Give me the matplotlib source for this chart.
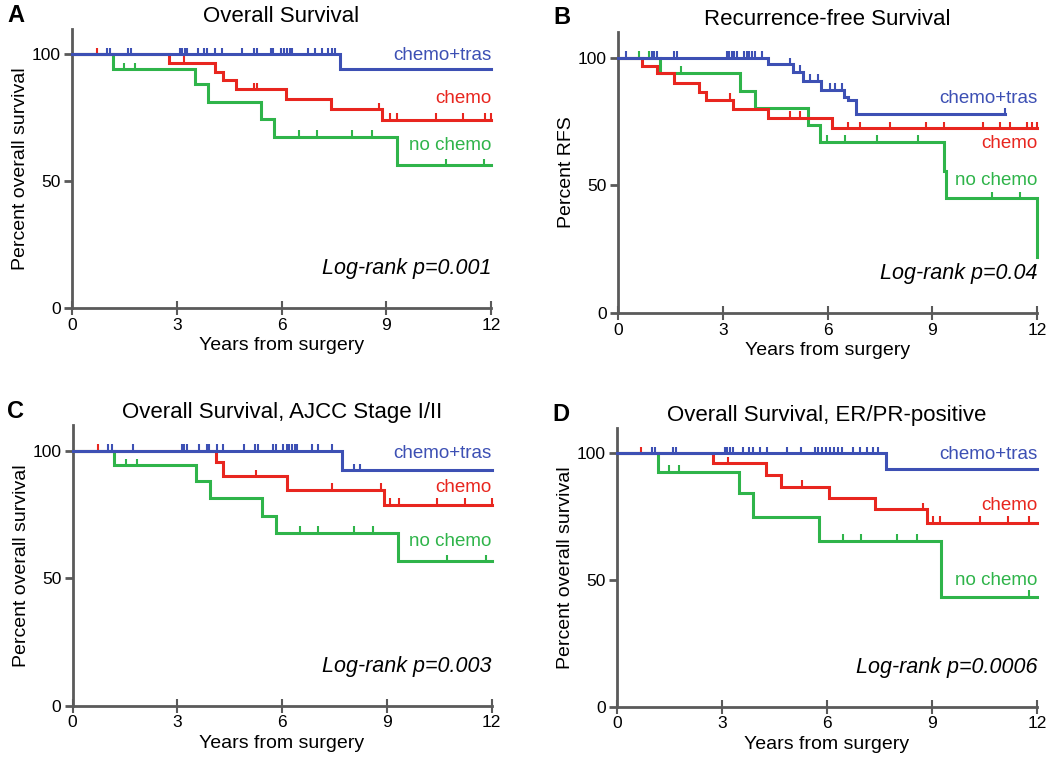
import matplotlib
matplotlib.use("Agg")
import matplotlib.pyplot as plt
import numpy as np

plt.rcParams["font.family"] = ["Liberation Sans", "DejaVu Sans"]

# colours of the three groups
BLUE = "#3d50b4"
RED = "#e8261f"
GREEN = "#2fb44a"

group_names = ["chemo+tras", "chemo", "no chemo"]

# ---- panel A: overall survival ----
A_tras_t = [7.68]
A_tras_s = [94.1]
A_tras_c = [0.99, 1.09, 1.61, 1.68, 3.09, 3.16, 3.24, 3.29, 3.60, 3.79, 3.86, 4.10,
            4.31, 4.88, 5.20, 5.29, 5.69, 5.77, 5.99, 6.08, 6.15, 6.23, 6.31, 6.77,
            6.96, 7.15, 7.34, 7.44, 7.52]
A_chemo_t = [2.79, 4.10, 4.32, 4.70, 6.13, 7.41, 8.89]
A_chemo_s = [96.6, 93.0, 89.8, 86.2, 82.3, 78.3, 74.3]
A_chemo_c = [0.71, 3.21, 5.20, 5.29, 8.80, 9.11, 9.30, 10.42, 11.21, 11.82, 12.0]
A_none_t = [1.18, 3.51, 3.89, 5.41, 5.79, 9.30]
A_none_s = [94.1, 88.5, 81.4, 74.4, 67.5, 56.3]
A_none_c = [1.50, 1.81, 6.49, 7.01, 8.01, 8.60, 10.71, 11.81]

# ---- panel B: recurrence-free survival ----
B_tras_t = [4.29, 5.00, 5.29, 5.82, 6.48, 6.60, 6.82]
B_tras_s = [97.4, 94.3, 90.9, 87.3, 84.7, 83.2, 77.8]
B_tras_c = [0.23, 0.97, 1.03, 1.11, 1.60, 1.68, 3.11, 3.19, 3.26, 3.33, 3.40, 3.61,
            3.69, 3.76, 3.85, 3.93, 4.13, 4.93, 5.21, 5.50, 5.74, 6.07, 6.22, 6.41,
            11.09]
B_chemo_t = [0.68, 1.11, 1.60, 2.32, 2.52, 3.30, 4.29, 6.12]
B_chemo_s = [96.7, 93.9, 90.0, 86.7, 83.4, 79.9, 76.5, 72.3]
B_chemo_c = [3.21, 4.93, 5.21, 6.60, 6.92, 7.79, 8.83, 9.34, 10.45, 10.95, 11.23,
             11.71, 11.85, 12.0]
B_none_t = [1.20, 3.50, 3.91, 5.43, 5.79, 9.34, 9.40, 12.0]
B_none_s = [94.1, 87.0, 80.4, 73.6, 66.9, 55.4, 44.9, 22.1]
B_none_c = [0.61, 0.90, 0.97, 1.81, 5.98, 6.50, 7.43, 8.60, 10.72, 11.52]
B_end = [11.09, 12.0, 12.0]

# ---- panel C: overall survival, AJCC stage I/II ----
C_tras_t = [7.71]
C_tras_s = [92.3]
C_tras_c = [1.03, 1.12, 1.72, 3.13, 3.19, 3.27, 3.63, 3.84, 3.92, 4.13, 4.30, 4.92,
            5.23, 5.32, 5.75, 5.83, 6.04, 6.14, 6.21, 6.30, 6.38, 6.44, 6.85, 7.04,
            7.43, 8.05, 8.22]
C_chemo_t = [4.11, 4.32, 6.14, 8.93]
C_chemo_s = [95.6, 89.9, 84.7, 78.8]
C_chemo_c = [0.72, 5.25, 7.43, 8.83, 9.10, 9.34, 10.44, 11.23, 12.0]
C_none_t = [1.20, 3.54, 3.94, 5.44, 5.83, 9.32]
C_none_s = [94.2, 88.2, 81.4, 74.5, 67.7, 56.6]
C_none_c = [1.53, 1.84, 6.52, 7.04, 8.05, 8.62, 10.72, 11.84]

# ---- panel D: overall survival, ER/PR-positive ----
D_tras_t = [7.68]
D_tras_s = [93.7]
D_tras_c = [0.99, 1.09, 1.61, 1.69, 3.09, 3.15, 3.23, 3.31, 3.61, 3.78, 3.88, 4.09,
            4.28, 4.87, 5.26, 5.66, 5.75, 5.86, 5.97, 6.09, 6.20, 6.31, 6.43, 6.75,
            6.94, 7.13, 7.32, 7.47]
D_chemo_t = [2.75, 4.26, 4.69, 6.07, 7.37, 8.85]
D_chemo_s = [96.1, 91.5, 86.9, 82.5, 77.9, 72.6]
D_chemo_c = [0.69, 3.18, 5.28, 8.75, 9.04, 9.23, 10.37, 11.18, 11.78]
D_none_t = [1.18, 3.49, 3.88, 5.77, 9.26]
D_none_s = [92.8, 84.5, 75.0, 65.5, 43.4]
D_none_c = [1.49, 1.77, 6.47, 6.97, 7.99, 8.56, 11.78]

titles = ["Overall Survival", "Recurrence-free Survival",
          "Overall Survival, AJCC Stage I/II", "Overall Survival, ER/PR-positive"]
ylabels = ["Percent overall survival", "Percent RFS",
           "Percent overall survival", "Percent overall survival"]
pvalues = ["Log-rank p=0.001", "Log-rank p=0.04", "Log-rank p=0.003", "Log-rank p=0.0006"]
letters = ["A", "B", "C", "D"]
xticks = [0, 3, 6, 9, 12]
yticks = [0, 50, 100]

# label y positions (data units) for chemo+tras, chemo, no chemo
label_y = [[99.6, 82.7, 63.9], [84.1, 66.5, 51.8], [98.8, 85.4, 64.2], [99.4, 79.6, 50.0]]

panels = [
    [(A_tras_t, A_tras_s, A_tras_c), (A_chemo_t, A_chemo_s, A_chemo_c), (A_none_t, A_none_s, A_none_c)],
    [(B_tras_t, B_tras_s, B_tras_c), (B_chemo_t, B_chemo_s, B_chemo_c), (B_none_t, B_none_s, B_none_c)],
    [(C_tras_t, C_tras_s, C_tras_c), (C_chemo_t, C_chemo_s, C_chemo_c), (C_none_t, C_none_s, C_none_c)],
    [(D_tras_t, D_tras_s, D_tras_c), (D_chemo_t, D_chemo_s, D_chemo_c), (D_none_t, D_none_s, D_none_c)],
]
ends = [[12.0] * 3, B_end, [12.0] * 3, [12.0] * 3]
colors = [BLUE, RED, GREEN]

# axes rectangles in pixels: left, top-of-y-range(110), right, bottom(0)
W, H = 1050, 764
rects_px = [(72, 29, 491, 308), (618, 32, 1037, 313),
            (72.5, 425, 491.5, 705.7), (617, 428, 1037, 706.7)]

fig = plt.figure(figsize=(W / 100, H / 100), dpi=100)
AXCOL = "#5a5a5a"

for i, (l, t, r, b) in enumerate(rects_px):
    ax = fig.add_axes([l / W, 1 - b / H, (r - l) / W, (b - t) / H])
    ax.set_xlim(0, 12)
    ax.set_ylim(0, 110)
    for side in ["top", "right"]:
        ax.spines[side].set_visible(False)
    for side in ["left", "bottom"]:
        ax.spines[side].set_color(AXCOL)
        ax.spines[side].set_linewidth(2)
    ax.set_xticks(xticks)
    ax.set_yticks(yticks)
    ax.tick_params(axis="x", direction="inout", length=10, width=1.5, color=AXCOL,
                   labelsize=12.5, pad=2)
    ax.tick_params(axis="y", direction="out", length=6, width=2, color=AXCOL,
                   labelsize=12.5, pad=2)
    ax.set_xlabel("Years from surgery", fontsize=14, labelpad=3)
    ax.set_ylabel(ylabels[i], fontsize=14, labelpad=2)
    ax.set_title(titles[i], fontsize=16, pad=5)

    # draw no chemo, chemo, then chemo+tras on top
    for g in [2, 1, 0]:
        t_ev, s_ev, cens = panels[i][g]
        end = ends[i][g]
        xs = [0] + list(t_ev)
        ys = [100] + list(s_ev)
        if xs[-1] < end:
            xs = xs + [end]
            ys = ys + [ys[-1]]
        ax.step(xs, ys, where="post", color=colors[g], lw=2.2, zorder=3 + (2 - g),
                solid_joinstyle="miter", clip_on=False)
        # censor ticks sit on the curve at each censoring time
        ev = np.array([0] + list(t_ev))
        lev = np.array([100] + list(s_ev))
        cy = lev[np.searchsorted(ev, cens, side="right") - 1]
        ax.vlines(cens, cy, cy + 2.6, color=colors[g], lw=1.5, zorder=3 + (2 - g),
                  clip_on=False)
        ax.text(12, label_y[i][g], group_names[g], color=colors[g], fontsize=13.5,
                ha="right", va="center")

    ax.text(12, 15.5, pvalues[i], fontsize=15.5, style="italic", ha="right",
            va="center")

    fig.text((l - 65) / W, 1 - (t - 14) / H, letters[i], fontsize=17,
             fontweight="bold", ha="left", va="center")

fig.savefig("out.png", dpi=100)
